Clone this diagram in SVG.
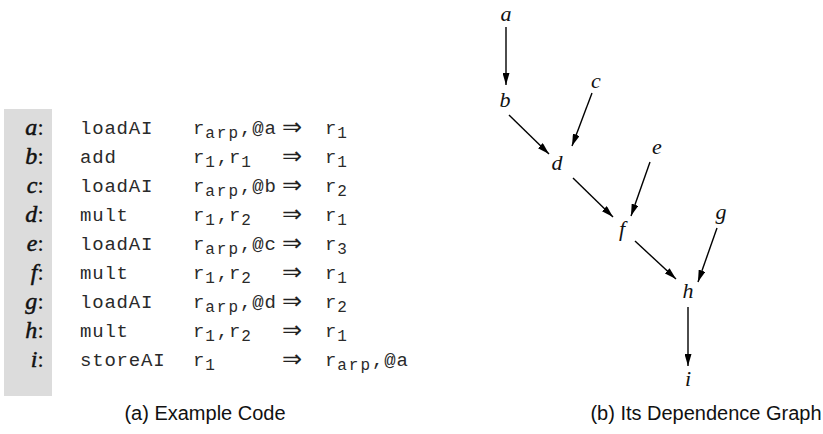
<svg xmlns="http://www.w3.org/2000/svg" width="823" height="434" viewBox="0 0 823 434">
<style>
.lbl{font-family:"Liberation Serif",serif;font-size:24px;fill:#111}
.lbl .it{font-style:italic;stroke:#111;stroke-width:0.5px}
.code{font-family:"Liberation Mono",monospace;font-size:19px;fill:#2a2a2a;letter-spacing:0.8px}
.sub{font-size:16px;letter-spacing:2px}
.arr{font-family:"DejaVu Sans",sans-serif;font-size:24px;fill:#222}
.node{font-family:"Liberation Serif",serif;font-style:italic;font-size:22px;fill:#111;text-anchor:middle}
.cap{font-family:"Liberation Sans",Arial,sans-serif;font-size:20px;fill:#111;text-anchor:middle}
.edge{stroke:#000;stroke-width:1.4;fill:none;marker-end:url(#ah)}
</style>
<defs>
<marker id="ah" viewBox="0 0 12 7" refX="12" refY="3.5" markerWidth="12" markerHeight="7" markerUnits="userSpaceOnUse" orient="auto">
<path d="M0,0 L12,3.5 L0,7 z" fill="#000"/>
</marker>
</defs>
<rect id="gutter" x="4" y="109" width="48" height="287" fill="#dcdcdc"/>
<g id="code">
<g id="row-a"><text class="lbl" x="44" y="135" text-anchor="end"><tspan class="it">a</tspan>:</text><text class="code" x="80" y="134">loadAI</text><text class="code" x="193" y="134">r<tspan class="sub" dy="4">arp</tspan><tspan dy="-4">,@a</tspan></text><text class="arr" x="282" y="135">⇒</text><text class="code" x="325" y="134">r<tspan class="sub" dy="4">1</tspan></text></g>
<g id="row-b"><text class="lbl" x="44" y="164" text-anchor="end"><tspan class="it">b</tspan>:</text><text class="code" x="80" y="163">add</text><text class="code" x="193" y="163">r<tspan class="sub" dy="4">1</tspan><tspan dy="-4">,r</tspan><tspan class="sub" dy="4">1</tspan></text><text class="arr" x="282" y="164">⇒</text><text class="code" x="325" y="163">r<tspan class="sub" dy="4">1</tspan></text></g>
<g id="row-c"><text class="lbl" x="44" y="193" text-anchor="end"><tspan class="it">c</tspan>:</text><text class="code" x="80" y="192">loadAI</text><text class="code" x="193" y="192">r<tspan class="sub" dy="4">arp</tspan><tspan dy="-4">,@b</tspan></text><text class="arr" x="282" y="193">⇒</text><text class="code" x="325" y="192">r<tspan class="sub" dy="4">2</tspan></text></g>
<g id="row-d"><text class="lbl" x="44" y="222" text-anchor="end"><tspan class="it">d</tspan>:</text><text class="code" x="80" y="221">mult</text><text class="code" x="193" y="221">r<tspan class="sub" dy="4">1</tspan><tspan dy="-4">,r</tspan><tspan class="sub" dy="4">2</tspan></text><text class="arr" x="282" y="222">⇒</text><text class="code" x="325" y="221">r<tspan class="sub" dy="4">1</tspan></text></g>
<g id="row-e"><text class="lbl" x="44" y="251" text-anchor="end"><tspan class="it">e</tspan>:</text><text class="code" x="80" y="250">loadAI</text><text class="code" x="193" y="250">r<tspan class="sub" dy="4">arp</tspan><tspan dy="-4">,@c</tspan></text><text class="arr" x="282" y="251">⇒</text><text class="code" x="325" y="250">r<tspan class="sub" dy="4">3</tspan></text></g>
<g id="row-f"><text class="lbl" x="44" y="280" text-anchor="end"><tspan class="it">f</tspan>:</text><text class="code" x="80" y="279">mult</text><text class="code" x="193" y="279">r<tspan class="sub" dy="4">1</tspan><tspan dy="-4">,r</tspan><tspan class="sub" dy="4">2</tspan></text><text class="arr" x="282" y="280">⇒</text><text class="code" x="325" y="279">r<tspan class="sub" dy="4">1</tspan></text></g>
<g id="row-g"><text class="lbl" x="44" y="309" text-anchor="end"><tspan class="it">g</tspan>:</text><text class="code" x="80" y="308">loadAI</text><text class="code" x="193" y="308">r<tspan class="sub" dy="4">arp</tspan><tspan dy="-4">,@d</tspan></text><text class="arr" x="282" y="309">⇒</text><text class="code" x="325" y="308">r<tspan class="sub" dy="4">2</tspan></text></g>
<g id="row-h"><text class="lbl" x="44" y="338" text-anchor="end"><tspan class="it">h</tspan>:</text><text class="code" x="80" y="337">mult</text><text class="code" x="193" y="337">r<tspan class="sub" dy="4">1</tspan><tspan dy="-4">,r</tspan><tspan class="sub" dy="4">2</tspan></text><text class="arr" x="282" y="338">⇒</text><text class="code" x="325" y="337">r<tspan class="sub" dy="4">1</tspan></text></g>
<g id="row-i"><text class="lbl" x="44" y="367" text-anchor="end"><tspan class="it">i</tspan>:</text><text class="code" x="80" y="366">storeAI</text><text class="code" x="193" y="366">r<tspan class="sub" dy="4">1</tspan></text><text class="arr" x="282" y="367">⇒</text><text class="code" x="325" y="366">r<tspan class="sub" dy="4">arp</tspan><tspan dy="-4">,@a</tspan></text></g>
</g>
<text id="cap-a" class="cap" x="205" y="420">(a) Example Code</text>
<g id="connectors">
<line class="edge" x1="506" y1="27" x2="506" y2="85"/>
<line class="edge" x1="509" y1="115" x2="549" y2="154"/>
<line class="edge" x1="592" y1="93" x2="572" y2="146"/>
<line class="edge" x1="573" y1="178" x2="613" y2="217"/>
<line class="edge" x1="650" y1="162" x2="631" y2="216"/>
<line class="edge" x1="635" y1="241" x2="676" y2="279"/>
<line class="edge" x1="717" y1="228" x2="698" y2="282"/>
<line class="edge" x1="688" y1="307" x2="688" y2="366"/>
</g>
<g id="node-a"><text class="node" x="506" y="21">a</text></g>
<g id="node-b"><text class="node" x="505" y="107">b</text></g>
<g id="node-c"><text class="node" x="596" y="88">c</text></g>
<g id="node-d"><text class="node" x="557" y="170">d</text></g>
<g id="node-e"><text class="node" x="657" y="154">e</text></g>
<g id="node-f"><text class="node" x="622" y="236">f</text></g>
<g id="node-g"><text class="node" x="721" y="219">g</text></g>
<g id="node-h"><text class="node" x="688" y="298">h</text></g>
<g id="node-i"><text class="node" x="688" y="386">i</text></g>
<text id="cap-b" class="cap" x="706" y="420">(b) Its Dependence Graph</text>
</svg>
